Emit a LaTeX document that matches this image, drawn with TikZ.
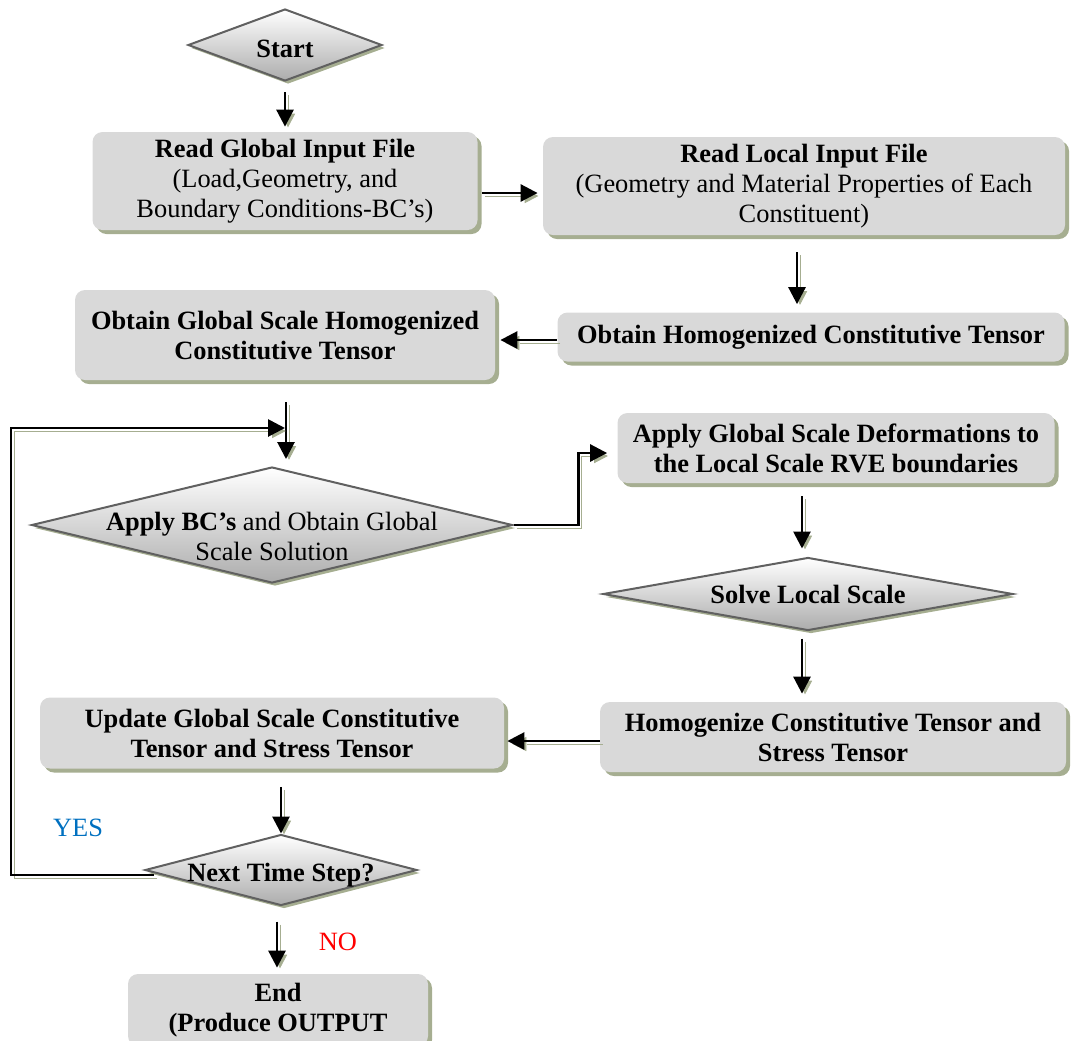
\documentclass[tikz,border=0pt]{standalone}
\usepackage{fontspec}
\setmainfont{Liberation Serif}
\usetikzlibrary{shapes.geometric,shadows,arrows.meta}
\definecolor{boxgray}{RGB}{217,217,217}
\definecolor{shadowgreen}{RGB}{166,174,145}
\definecolor{yesblue}{RGB}{0,112,192}
\begin{document}
\begin{tikzpicture}[x=0.5pt, y=-0.5pt,
    procbox/.style={rectangle, fill=boxgray, rounded corners=5pt, align=center, inner sep=0pt,
        font=\fontsize{13.2}{15}\selectfont\bfseries,
        drop shadow={shadow xshift=2pt, shadow yshift=-2pt, fill=shadowgreen, opacity=1}},
    decision/.style={diamond, aspect=4, draw=gray!75!black, line width=1pt, top color=white, bottom color=gray!65,
        align=center, inner xsep=0pt, inner ysep=-14pt, font=\fontsize{13.2}{15}\selectfont\bfseries,
        drop shadow={shadow xshift=1.5pt, shadow yshift=-1.5pt, fill=shadowgreen, opacity=1}},
    arrow/.style={-{Triangle[length=8.5pt,width=8.5pt]}, line width=1.4pt,
        preaction={draw=shadowgreen, transform canvas={shift={(1.5pt,-1.5pt)}}}},
    flag/.style={font=\fontsize{13.2}{15}\selectfont}
]
\useasboundingbox (0,0) rectangle (1072,1040);

% Global input and local input
\node[decision, minimum width=97pt, minimum height=36pt] (start) at (285,45) {\rule{0pt}{13pt}Start};
\node[procbox, minimum width=192.5pt, minimum height=49pt] (rgif) at (285,181)
    {Read Global Input File\\\mdseries(Load,Geometry, and\\\mdseries Boundary Conditions-BC’s)};
\node[procbox, minimum width=261pt, minimum height=49pt] (rlif) at (804,186)
    {Read Local Input File\\\mdseries (Geometry and Material Properties of Each\\\mdseries Constituent)};
\node[procbox, minimum width=253.5pt, minimum height=24.5pt] (ohct) at (811,337)
    {Obtain Homogenized Constitutive Tensor};
\node[procbox, minimum width=210pt, minimum height=45pt] (ogs) at (285,335)
    {Obtain Global Scale Homogenized\\Constitutive Tensor};
\draw[arrow, shorten <=5pt, shorten >=2.5pt] (start.south) -- (rgif.north);
\draw[arrow, shorten <=2pt, shorten >=2.5pt] ([yshift=-6pt]rgif.east) -- ([yshift=-6pt]rgif.east -| rlif.west);
\draw[arrow, shorten <=8.5pt, shorten >=4pt] ([xshift=-3.5pt]rlif.south) -- ([xshift=-3.5pt]rlif.south |- ohct.north);
\draw[arrow, shorten >=2.5pt] ([yshift=-1.5pt]ohct.west) -- ([yshift=-1.5pt]ohct.west -| ogs.east);

% Time step loop
\node[decision, minimum width=240.5pt, minimum height=58pt] (apply) at (272,525)
    {\rule{0pt}{21pt}Apply BC’s \mdseries and Obtain Global\\\mdseries Scale Solution};
\node[procbox, minimum width=218.5pt, minimum height=35pt] (agsd) at (836,448)
    {Apply Global Scale Deformations to\\the Local Scale RVE boundaries};
\node[decision, minimum width=205pt, minimum height=36.5pt] (solve) at (808,594) {Solve Local Scale};
\node[procbox, minimum width=233pt, minimum height=35pt] (hct) at (833,737)
    {Homogenize Constitutive Tensor and\\Stress Tensor};
\node[procbox, minimum width=232pt, minimum height=35.5pt] (ugs) at (272,733)
    {Update Global Scale Constitutive\\Tensor and Stress Tensor};
\node[decision, minimum width=136pt, minimum height=35.5pt] (next) at (281,870) {\rule{0pt}{14pt}Next Time Step?};
\node[procbox, minimum width=150pt, minimum height=36pt] (endbox) at (278,1010)
    {End\\(Produce OUTPUT};
\coordinate (loopin) at (285,428);
\draw[arrow, shorten <=11pt, shorten >=3.5pt] ([xshift=0.5pt]ogs.south) -- ([xshift=0.5pt]ogs.south |- apply.north);
\draw[arrow, shorten >=5pt] (apply.east) -- ++(65,0) |- ([yshift=-2.5pt]agsd.west);
\draw[arrow, shorten <=6.5pt, shorten >=4pt] ([xshift=-3pt]solve.north |- agsd.south) -- ([xshift=-3pt]solve.north);
\draw[arrow, shorten <=3.5pt, shorten >=4pt] ([xshift=-3pt]solve.south) -- ([xshift=-3pt]solve.south |- hct.north);
\draw[arrow, shorten >=1.5pt] ([yshift=-2pt]hct.west) -- ([yshift=-2pt]hct.west -| ugs.east);
\draw[arrow, shorten <=9pt] (next.north |- ugs.south) -- (next.north);
\draw[arrow] ([xshift=5pt,yshift=-2.5pt]next.west) -- ++(-143,0) |- (loopin);
\draw[arrow, shorten <=7.5pt, shorten >=3pt] ([xshift=-2pt]next.south) -- ([xshift=-2pt]next.south |- endbox.north);
\node[flag, text=yesblue] (yes) at (78,828) {YES};
\node[flag, text=red] (no) at (338,942) {NO};

\end{tikzpicture}
\end{document}
